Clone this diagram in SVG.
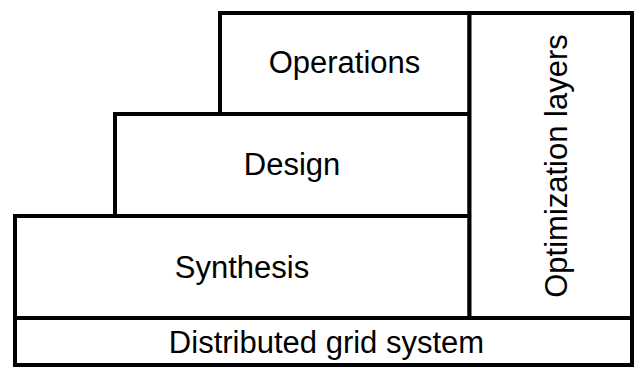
<svg xmlns="http://www.w3.org/2000/svg" width="635" height="369" viewBox="0 0 635 369">
<style>
.box{fill:#fff;stroke:#000;stroke-width:4}
.lbl{font-family:"Liberation Sans",Arial,sans-serif;font-size:31px;fill:#000;text-anchor:middle}
</style>
<rect width="635" height="369" fill="#fff"/>
<g id="operations"><rect class="box" x="220" y="13" width="249.5" height="101"/><text class="lbl" x="344.5" y="72.5">Operations</text></g>
<g id="design"><rect class="box" x="115" y="114" width="354.5" height="102"/><text class="lbl" x="292" y="174.5">Design</text></g>
<g id="synthesis"><rect class="box" x="15" y="216" width="454.5" height="102"/><text class="lbl" x="242" y="277.5">Synthesis</text></g>
<g id="optimization"><rect class="box" x="469.5" y="13" width="162.5" height="305"/><text class="lbl" transform="translate(566.5 166) rotate(-90)">Optimization layers</text></g>
<g id="distributed"><rect class="box" x="15" y="318" width="617" height="47"/><text class="lbl" x="326.5" y="352.5">Distributed grid system</text></g>
<g id="connectors"></g>
</svg>
